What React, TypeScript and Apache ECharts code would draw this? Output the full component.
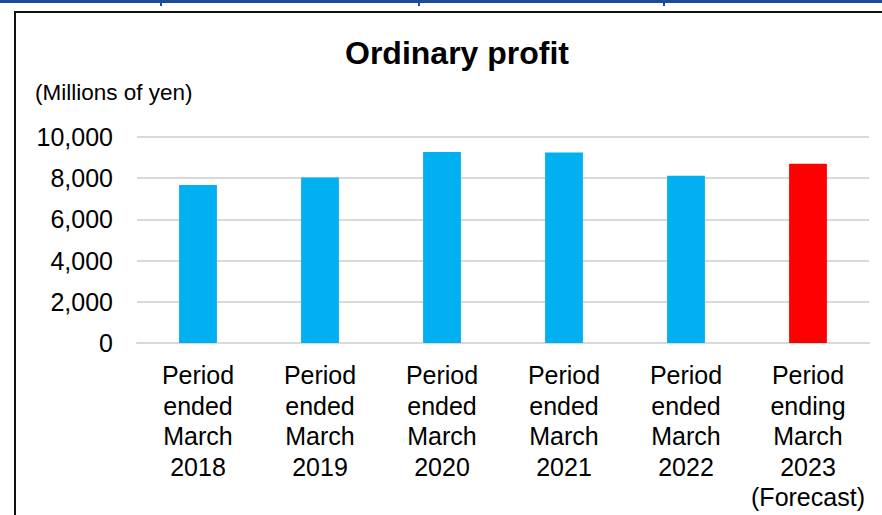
import React, { useEffect, useRef } from "react";
import * as echarts from "echarts";

const categories = [
  "Period\nended\nMarch\n2018",
  "Period\nended\nMarch\n2019",
  "Period\nended\nMarch\n2020",
  "Period\nended\nMarch\n2021",
  "Period\nended\nMarch\n2022",
  "Period\nending\nMarch\n2023\n(Forecast)",
];
const profitValues = [7670, 8040, 9270, 9250, 8120, 8700];
const barColors = ["#00b0f0", "#00b0f0", "#00b0f0", "#00b0f0", "#00b0f0", "#ff0000"];
const titleText = "Ordinary profit";
const unitText = "(Millions of yen)";

export default function App() {
  const ref = useRef<HTMLDivElement>(null);
  useEffect(() => {
    if (!ref.current) return;
    const chart = echarts.init(ref.current, undefined, { renderer: "svg" });
    const font = "Liberation Sans, Arial, sans-serif";
    chart.setOption({
      animation: false,
      backgroundColor: "#ffffff",
      textStyle: { fontFamily: font },
      grid: { left: 137, right: 13, top: 137, bottom: 172, containLabel: false },
      graphic: [
        { type: "rect", shape: { x: 0, y: 0, width: 882, height: 3 }, style: { fill: "#1c4a9c" } },
        { type: "rect", shape: { x: 160, y: 0, width: 2, height: 6 }, style: { fill: "#1c4a9c" } },
        { type: "rect", shape: { x: 418, y: 0, width: 2, height: 6 }, style: { fill: "#1c4a9c" } },
        { type: "rect", shape: { x: 663, y: 0, width: 2, height: 6 }, style: { fill: "#1c4a9c" } },
        {
          type: "rect",
          shape: { x: 15, y: 12, width: 900, height: 600 },
          style: { fill: "none", stroke: "#111111", lineWidth: 2 },
        },
        {
          type: "text",
          left: 345,
          top: 37,
          style: { text: titleText, font: `bold 32px ${font}`, fill: "#000000" },
        },
        {
          type: "text",
          left: 35,
          top: 81,
          style: { text: unitText, font: `22.5px ${font}`, fill: "#000000" },
        },
      ],
      xAxis: {
        type: "category",
        data: categories,
        axisLine: { show: true, lineStyle: { color: "#d9d9d9", width: 2 } },
        axisTick: { show: false },
        axisLabel: {
          interval: 0,
          margin: 17,
          color: "#000000",
          fontSize: 25,
          lineHeight: 30.5,
          fontFamily: font,
        },
      },
      yAxis: {
        type: "value",
        min: 0,
        max: 10000,
        interval: 2000,
        axisLine: { show: false },
        axisTick: { show: false },
        splitLine: { lineStyle: { color: "#d9d9d9", width: 2 } },
        axisLabel: {
          margin: 24,
          color: "#000000",
          fontSize: 25,
          fontFamily: font,
          formatter: (v: number) => v.toLocaleString("en-US"),
        },
      },
      series: [
        {
          type: "bar",
          data: profitValues.map((v, i) => ({ value: v, itemStyle: { color: barColors[i] } })),
          barWidth: "31%",
        },
      ],
    });
    return () => chart.dispose();
  }, []);
  return (
    <div
      ref={ref}
      style={{ position: "fixed", left: 0, top: 0, width: 882, height: 515 }}
    />
  );
}
